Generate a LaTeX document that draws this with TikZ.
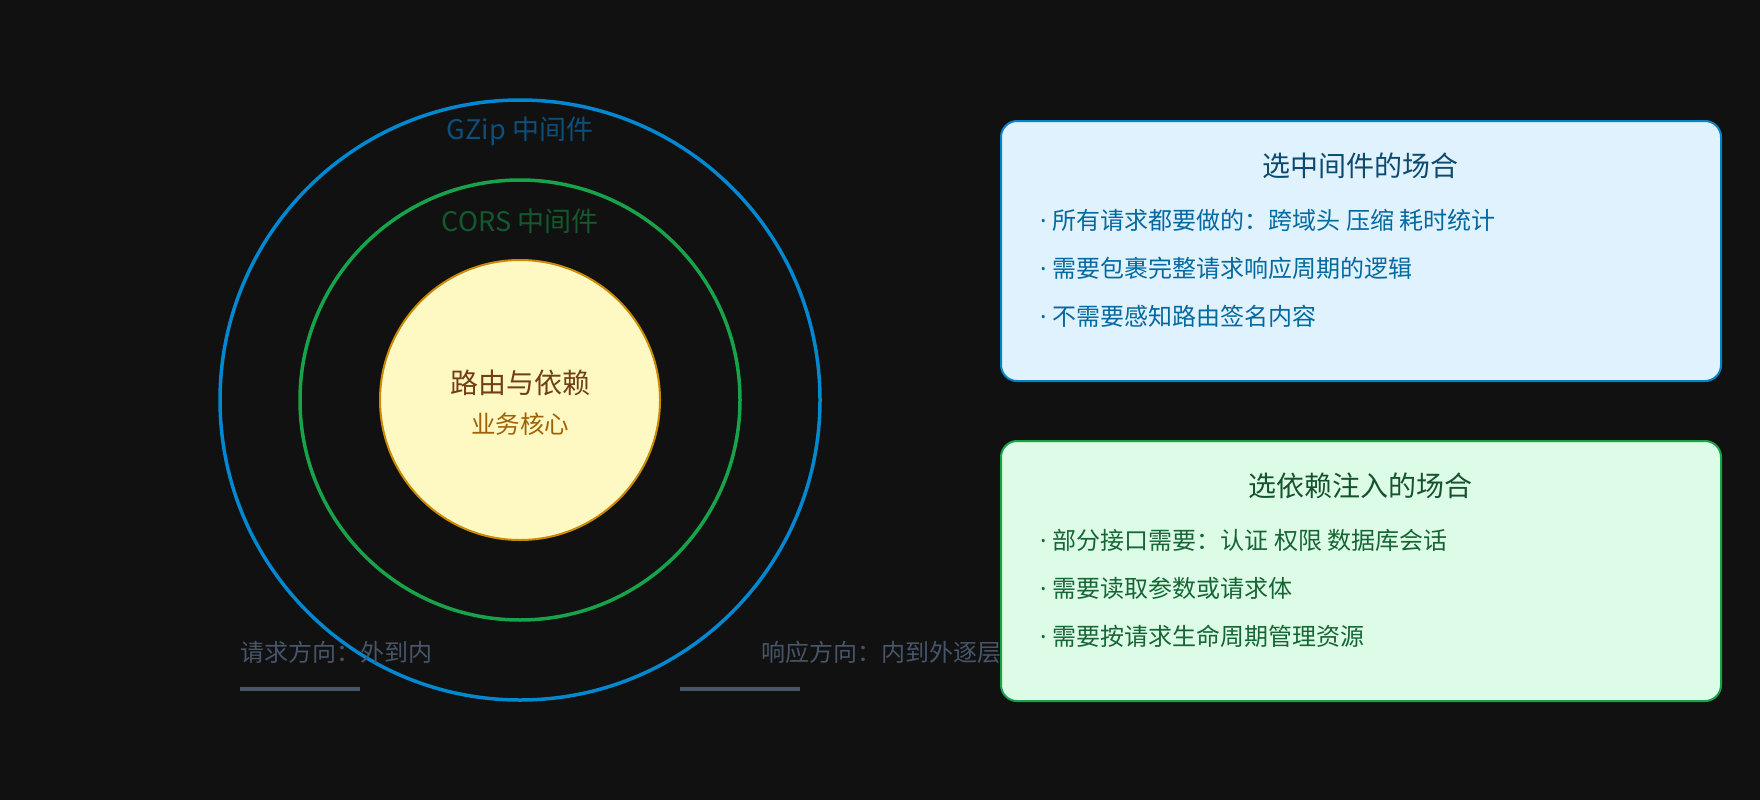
\documentclass[tikz,border=0pt]{standalone}
\usepackage{fontspec}
\newfontfamily\cjk{Noto Sans CJK SC}
\newfontfamily\latin{Noto Sans}
\usetikzlibrary{positioning}

\definecolor{bg}{HTML}{111111}
\definecolor{gzipblue}{HTML}{0288D1}
\definecolor{gziptext}{HTML}{0B4F7C}
\definecolor{corsgreen}{HTML}{16A34A}
\definecolor{corstext}{HTML}{14592E}
\definecolor{corefill}{HTML}{FEF9C3}
\definecolor{coreedge}{HTML}{CA8A04}
\definecolor{coretitle}{HTML}{713F12}
\definecolor{coresub}{HTML}{A16207}
\definecolor{hintgray}{HTML}{475569}
\definecolor{mwfill}{HTML}{E0F2FE}
\definecolor{mwedge}{HTML}{0284C7}
\definecolor{mwtitle}{HTML}{0C4A6E}
\definecolor{mwitem}{HTML}{0369A1}
\definecolor{difill}{HTML}{DCFCE7}
\definecolor{diedge}{HTML}{16A34A}
\definecolor{dititle}{HTML}{14532D}
\definecolor{diitem}{HTML}{166534}

\begin{document}
\begin{tikzpicture}[x=1pt,y=-1pt,
  ring/.style={circle, draw, line width=3.5pt, minimum size=#1, inner sep=0pt},
  ringlabel/.style={font=\cjk\fontsize{27}{31}\selectfont, inner sep=0pt},
  hint/.style={font=\cjk\fontsize{24}{28}\selectfont, text=hintgray, anchor=west, inner sep=0pt},
  hintbar/.style={draw=hintgray, line width=3.5pt},
  card/.style={draw, line width=2pt, rounded corners=16pt, minimum width=720pt,
    minimum height=260pt, anchor=north west, inner sep=0pt},
  cardtitle/.style={font=\cjk\fontsize{28}{32}\selectfont, inner sep=0pt},
  carditem/.style={font=\cjk\fontsize{24}{28}\selectfont, anchor=west, inner sep=0pt}]

  % Background
  \fill[bg] (0,0) rectangle (1760,800);
  \useasboundingbox (0,0) rectangle (1760,800);

  % Rings
  \node[ring=600pt, draw=gzipblue] (gzip) at (520,400) {};
  \node[ring=440pt, draw=corsgreen] (cors) at (520,400) {};
  \node[circle, draw=coreedge, fill=corefill, line width=2pt, minimum size=280pt] (core) at (520,400) {};

  % Ring labels
  \node[ringlabel, text=gziptext] (gziplabel) at (520,131) {GZip 中间件};
  \node[ringlabel, text=corstext] (corslabel) at (520,221) {CORS 中间件};
  \node[ringlabel, text=coretitle, font=\cjk\fontsize{28}{32}\selectfont] (coretitle) at (520,383) {路由与依赖};
  \node[ringlabel, text=coresub, font=\cjk\fontsize{24.5}{28}\selectfont] (coresub) at (520,424) {业务核心};

  % Direction hints
  \node[hint] (reqhint) at (240,652) {请求方向：外到内};
  \node[hint] (resphint) at (761,652) {响应方向：内到外逐层};
  \draw[hintbar] (240,689) -- (360,689);
  \draw[hintbar] (680,689) -- (800,689);

  % Middleware card
  \node[card, draw=mwedge, fill=mwfill] (mwcard) at (1000,120) {};
  \node[cardtitle, text=mwtitle] (mwtitle) at (1360,166) {选中间件的场合};
  \foreach \t [count=\i] in {所有请求都要做的：跨域头 压缩 耗时统计,
      需要包裹完整请求响应周期的逻辑, 不需要感知路由签名内容}
    \node[carditem, text=mwitem] (mwitem\i) at (1040,172+48*\i) {{\latin·\ }\t};

  % Dependency card
  \node[card, draw=diedge, fill=difill] (dicard) at (1000,440) {};
  \node[cardtitle, text=dititle] (dititle) at (1360,486) {选依赖注入的场合};
  \foreach \t [count=\i] in {部分接口需要：认证 权限 数据库会话,
      需要读取参数或请求体, 需要按请求生命周期管理资源}
    \node[carditem, text=diitem] (diitem\i) at (1040,492+48*\i) {{\latin·\ }\t};
\end{tikzpicture}
\end{document}
